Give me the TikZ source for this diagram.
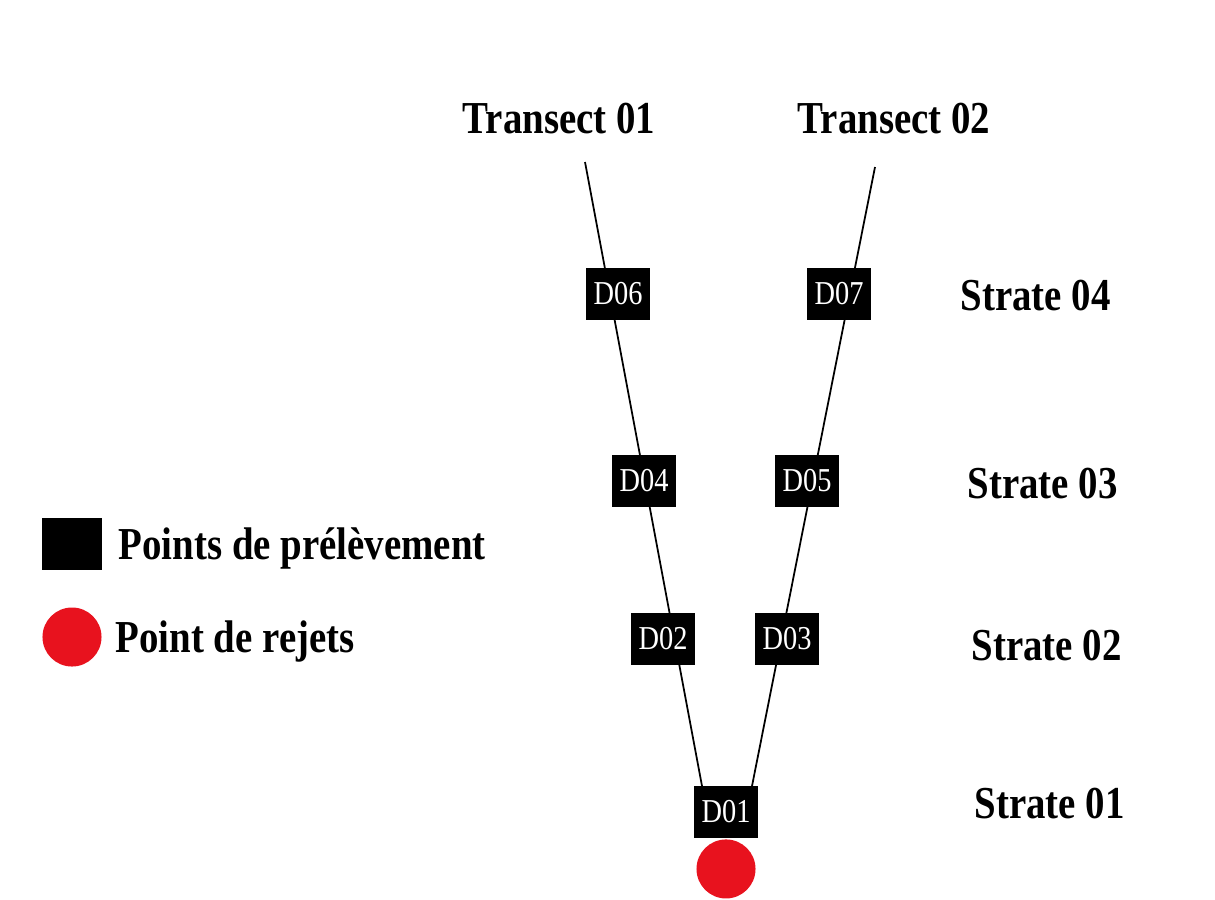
\documentclass[tikz,border=0pt]{standalone}
\usepackage{fontspec}
\usepackage{xcolor}
\setmainfont{Liberation Serif}
\newfontfamily\labelfont[FakeStretch=0.85]{Liberation Serif}
\usetikzlibrary{positioning}

\definecolor{rejetred}{RGB}{232,18,30}

\begin{document}
\begin{tikzpicture}[x=0.01cm, y=-0.01cm,
    sample/.style={fill=black, text=white, inner sep=0pt,
        minimum width=0.63cm, minimum height=0.52cm,
        font=\labelfont\fontsize{9.5}{11}\selectfont},
    rejet/.style={circle, fill=rejetred, inner sep=0pt, minimum size=0.59cm},
    title/.style={anchor=base west, inner sep=0pt,
        font=\labelfont\bfseries\fontsize{13}{15}\selectfont},
    transect/.style={line width=0.5pt}
]
\useasboundingbox (0,0) rectangle (1215,899);

% rejection point
\node[sample] (D01) at (726, 812) {D01};
\node[rejet, below=0pt of D01] (R) {};

% transects
\coordinate (T1top) at (585, 162);
\coordinate (T1bot) at (702, 786);
\coordinate (T2top) at (875, 167);
\coordinate (T2bot) at (752, 786);
\draw[transect] (T1top) -- (T1bot);
\draw[transect] (T2top) -- (T2bot);

\begin{scope}[every node/.style={sample}]
    % Strate 02
    \node (D02) at (663, 639) {D02};
    \node (D03) at (787, 639) {D03};
    % Strate 03
    \node (D04) at (644, 481) {D04};
    \node (D05) at (807, 481) {D05};
    % Strate 04
    \node (D06) at (618, 294) {D06};
    \node (D07) at (839, 294) {D07};
\end{scope}

\begin{scope}[every node/.style={title}]
    \node (T1) at (462, 133) {Transect 01};
    \node (T2) at (797, 133) {Transect 02};
    \node (S4) at (960, 310) {Strate 04};
    \node (S3) at (967, 498) {Strate 03};
    \node (S2) at (971, 660) {Strate 02};
    \node (S1) at (974, 818) {Strate 01};
\end{scope}

% legend
\node[sample, minimum width=0.6cm] (LegBox) at (72, 544) {};
\node[rejet] (LegDot) at (72, 637) {};
\node[title] (LegBoxTxt) at (118, 559) {Points de prélèvement};
\node[title] (LegDotTxt) at (115, 652) {Point de rejets};
\end{tikzpicture}
\end{document}
